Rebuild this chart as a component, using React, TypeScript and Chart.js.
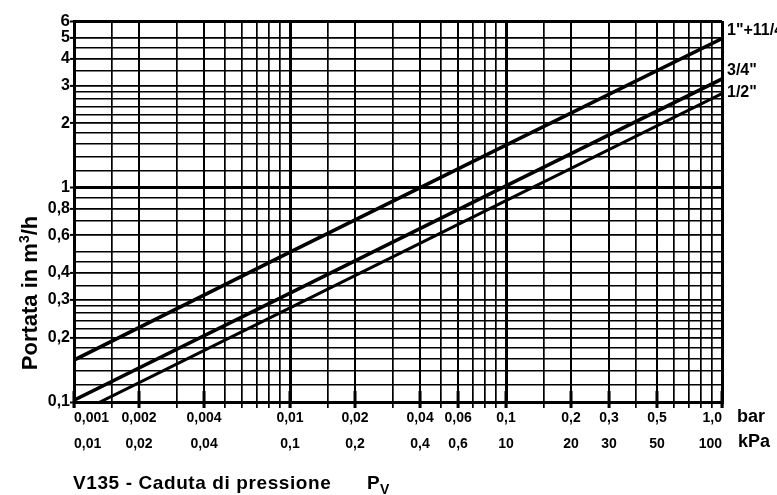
import React, { useEffect, useRef } from "react";
import { Chart, registerables } from "chart.js";

Chart.register(...registerables);

// ---- data ----
const xGridValues = [
  0.001, 0.0015, 0.002, 0.003, 0.004, 0.005, 0.006, 0.007, 0.008, 0.009,
  0.01, 0.015, 0.02, 0.03, 0.04, 0.05, 0.06, 0.07, 0.08, 0.09,
  0.1, 0.15, 0.2, 0.3, 0.4, 0.5, 0.6, 0.7, 0.8, 0.9, 1.0,
];
const yGridValues = [
  0.1, 0.12, 0.14, 0.16, 0.18, 0.2, 0.22, 0.24, 0.26, 0.28, 0.3, 0.35, 0.4, 0.45, 0.5,
  0.6, 0.7, 0.8, 0.9, 1, 1.2, 1.4, 1.6, 1.8, 2, 2.2, 2.4, 2.6, 2.8, 3, 3.5, 4, 4.5, 5, 6,
];
const xLabelValues = [0.001, 0.002, 0.004, 0.01, 0.02, 0.04, 0.06, 0.1, 0.2, 0.3, 0.5, 1.0];
const barLabels = ["0,001", "0,002", "0,004", "0,01", "0,02", "0,04", "0,06", "0,1", "0,2", "0,3", "0,5", "1,0"];
const kPaLabels = ["0,01", "0,02", "0,04", "0,1", "0,2", "0,4", "0,6", "10", "20", "30", "50", "100"];
const yLabelValues = [0.1, 0.2, 0.3, 0.4, 0.6, 0.8, 1, 2, 3, 4, 5, 6];
const yLabels = ["0,1", "0,2", "0,3", "0,4", "0,6", "0,8", "1", "2", "3", "4", "5", "6"];

const seriesNames = ['1"+11/4"', '3/4"', '1/2"'];
const pressureBar = [0.001, 0.01, 0.1, 1.0];
const flowLarge = [0.157, 0.5, 1.58, 4.97];
const flowMid = [0.102, 0.322, 1.02, 3.22];
const flowSmall = [0.087, 0.275, 0.87, 2.75];

// ---- style ----
const FONT = '"Liberation Sans", Arial, Helvetica, sans-serif';
const seriesLabelOffsets = [-8, -8, -1];

const near = (a: number, b: number) => Math.abs(Math.log10(a) - Math.log10(b)) < 1e-6;
const findIdx = (arr: number[], v: number) => arr.findIndex((a) => near(a, v));
const isDecade = (v: number) => Math.abs(Math.log10(v) - Math.round(Math.log10(v))) < 1e-6;

const annotate = {
  id: "annotate",
  afterDraw(chart: any) {
    const { ctx, chartArea: ca, scales } = chart;
    const xs = scales.x;
    const ys = scales.y;
    ctx.save();
    ctx.strokeStyle = "#000";
    ctx.fillStyle = "#000";
    // thick ticks at labelled pressures
    ctx.lineWidth = 3;
    xLabelValues.forEach((v) => {
      const px = xs.getPixelForValue(v);
      ctx.beginPath();
      ctx.moveTo(px, ca.bottom - 11);
      ctx.lineTo(px, ca.bottom + 6);
      ctx.stroke();
    });
    // units
    ctx.textAlign = "left";
    ctx.textBaseline = "middle";
    ctx.font = `bold 18px ${FONT}`;
    ctx.fillText("bar", ca.right + 15, ca.bottom + 15);
    ctx.fillText("kPa", ca.right + 16, ca.bottom + 40);
    // series labels
    ctx.font = `bold 16px ${FONT}`;
    const lasts = [flowLarge, flowMid, flowSmall].map((a) => a[a.length - 1]);
    seriesNames.forEach((name, i) => {
      const py = ys.getPixelForValue(lasts[i]) + seriesLabelOffsets[i];
      ctx.fillText(name, ca.right + 5, py);
    });
    // y-axis title
    ctx.save();
    ctx.translate(29, 293);
    ctx.rotate(-Math.PI / 2);
    const mainF = `bold 22px ${FONT}`;
    const supF = `bold 14px ${FONT}`;
    ctx.font = mainF;
    const w1 = ctx.measureText("Portata in m").width;
    const w3 = ctx.measureText("/h").width;
    ctx.font = supF;
    const w2 = ctx.measureText("3").width;
    const total = w1 + w2 + w3;
    const x0 = -total / 2;
    ctx.textBaseline = "alphabetic";
    ctx.font = mainF;
    ctx.fillText("Portata in m", x0, 8);
    ctx.font = supF;
    ctx.fillText("3", x0 + w1, 0);
    ctx.font = mainF;
    ctx.fillText("/h", x0 + w1 + w2, 8);
    ctx.restore();
    // bottom title
    ctx.textBaseline = "alphabetic";
    ctx.font = `bold 19px ${FONT}`;
    (ctx as any).letterSpacing = "0.6px";
    ctx.fillText("V135 - Caduta di pressione", 73, 489);
    ctx.fillText("P", 367, 489);
    ctx.font = `bold 14px ${FONT}`;
    ctx.fillText("V", 380, 494);
    (ctx as any).letterSpacing = "0px";
    ctx.restore();
  },
};

export default function App() {
  const ref = useRef<HTMLCanvasElement | null>(null);
  useEffect(() => {
    if (!ref.current) return;
    const mk = (data: number[]) => pressureBar.map((x, i) => ({ x, y: data[i] }));
    const chart = new Chart(ref.current, {
      type: "line",
      data: {
        datasets: [
          { label: seriesNames[0], data: mk(flowLarge), borderColor: "#000", borderWidth: 3.6, pointRadius: 0, fill: false, clip: 0 },
          { label: seriesNames[1], data: mk(flowMid), borderColor: "#000", borderWidth: 3.6, pointRadius: 0, fill: false, clip: 0 },
          { label: seriesNames[2], data: mk(flowSmall), borderColor: "#000", borderWidth: 3, pointRadius: 0, fill: false, clip: 0 },
        ],
      } as any,
      options: {
        animation: false,
        responsive: true,
        maintainAspectRatio: false,
        layout: { padding: { top: 21, right: 55, left: 0, bottom: 0 } },
        plugins: { legend: { display: false }, tooltip: { enabled: false } },
        scales: {
          x: {
            type: "logarithmic",
            min: 0.001,
            max: 1.0,
            afterBuildTicks: (s: any) => {
              s.ticks = xGridValues.map((v) => ({ value: v }));
            },
            afterFit: (s: any) => {
              s.height = 93;
            },
            ticks: {
              autoSkip: false,
              maxRotation: 0,
              minRotation: 0,
              align: "inner",
              padding: -3,
              color: "#000",
              font: { family: FONT, size: 14, weight: "bold", lineHeight: "26px" },
              callback: (_v: any, index: number) => {
                const i = findIdx(xLabelValues, xGridValues[index]);
                return i < 0 ? "" : [barLabels[i], kPaLabels[i]];
              },
            },
            grid: {
              color: "#000",
              lineWidth: (c: any) => {
                const v = c.tick ? c.tick.value : 0;
                if (isDecade(v)) return 3;
                return findIdx(xLabelValues, v) >= 0 ? 2 : 1.7;
              },
              tickLength: 6,
              tickColor: "#000",
              tickWidth: 1.7,
            },
            border: { color: "#000", width: 3 },
          } as any,
          y: {
            type: "logarithmic",
            min: 0.1,
            max: 6,
            afterBuildTicks: (s: any) => {
              s.ticks = yGridValues.map((v) => ({ value: v }));
            },
            afterFit: (s: any) => {
              s.width = 74;
            },
            ticks: {
              autoSkip: false,
              padding: 0,
              color: "#000",
              font: (c: any) => ({
                family: FONT,
                size: c.tick && near(c.tick.value, 6) ? 17 : 16,
                weight: "bold",
              }),
              callback: (_v: any, index: number) => {
                const i = findIdx(yLabelValues, yGridValues[index]);
                return i < 0 ? "" : yLabels[i];
              },
            },
            grid: {
              color: "#000",
              lineWidth: (c: any) => {
                const v = c.tick ? c.tick.value : 0;
                if (isDecade(v) || near(v, 6)) return 3;
                return findIdx(yLabelValues, v) >= 0 ? 1.8 : 1.5;
              },
              tickLength: 4,
              tickColor: (c: any) => {
                const v = c.tick ? c.tick.value : 0;
                return findIdx(yLabelValues, v) >= 0 ? "#000" : "rgba(0,0,0,0)";
              },
              tickWidth: 2,
            },
            border: { color: "#000", width: 3 },
          } as any,
        },
      },
      plugins: [annotate],
    });
    return () => chart.destroy();
  }, []);
  return (
    <div style={{ position: "absolute", left: 0, top: 0, width: 777, height: 495, background: "#fff" }}>
      <canvas ref={ref} />
    </div>
  );
}
